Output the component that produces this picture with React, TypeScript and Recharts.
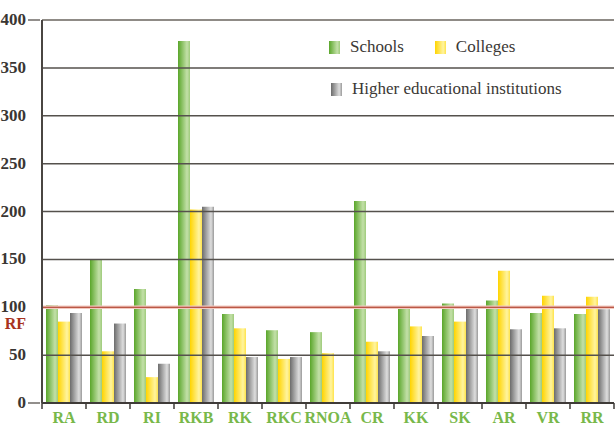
import { Bar, BarChart, ReferenceLine, XAxis, YAxis } from "recharts";

const regions = ["RA", "RD", "RI", "RKB", "RK", "RKC", "RNOA", "CR", "KK", "SK", "AR", "VR", "RR"];
const schools = [102, 150, 119, 378, 93, 76, 74, 211, 100, 104, 107, 94, 93];
const colleges = [85, 54, 27, 202, 78, 46, 52, 64, 80, 85, 138, 112, 111];
const higher = [94, 83, 41, 205, 48, 48, null, 54, 70, 100, 77, 78, 98];
const yTicks = [0, 50, 100, 150, 200, 250, 300, 350, 400];
const rfLevel = 100;

const data = regions.map((r, i) => ({
  region: r,
  schools: schools[i],
  colleges: colleges[i],
  higher: higher[i],
}));

const serif = "Liberation Serif, Times New Roman, serif";

const swatches = [
  { key: "schools", label: "Schools", bg: "linear-gradient(90deg,#5aa62a,#c3e0a8 75%,#9fcb7c)" },
  { key: "colleges", label: "Colleges", bg: "linear-gradient(90deg,#ffd400,#fff4a0 75%,#ffe34a)" },
  { key: "higher", label: "Higher educational institutions", bg: "linear-gradient(90deg,#6c6c6c,#dedede 75%,#9a9a9a)" },
];

function LegendBox() {
  const item = (s: (typeof swatches)[number]) => (
    <div key={s.key} style={{ display: "flex", alignItems: "center" }}>
      <span style={{ width: 11, height: 13, background: s.bg, display: "inline-block", marginRight: 10 }} />
      <span>{s.label}</span>
    </div>
  );
  return (
    <div
      style={{
        position: "absolute",
        left: 329,
        top: 37,
        fontFamily: serif,
        fontSize: 17,
        color: "#3b3835",
        lineHeight: "20px",
      }}
    >
      <div style={{ display: "flex", gap: 31 }}>
        {item(swatches[0])}
        {item(swatches[1])}
      </div>
      <div style={{ marginTop: 22, marginLeft: 2 }}>{item(swatches[2])}</div>
    </div>
  );
}

function XTick(props: any) {
  const { x, y, payload, index } = props;
  const off = payload.offset ?? 22;
  return (
    <g>
      <line x1={x - off} x2={x - off} y1={403} y2={409} stroke="#3f3b38" strokeWidth={1.5} />
      {index === regions.length - 1 && (
        <line x1={x + off} x2={x + off} y1={403} y2={409} stroke="#3f3b38" strokeWidth={1.5} />
      )}
      <text x={x} y={y + 12} textAnchor="middle" fill="#78b84a" fontFamily={serif} fontWeight="bold" fontSize={16}>
        {payload.value}
      </text>
    </g>
  );
}

function YTick(props: any) {
  const { x, y, payload } = props;
  const v = payload.value;
  return (
    <g>
      {(v === 0 || v === 400) && <line x1={x - 6} x2={x + 6} y1={y} y2={y} stroke="#6e6a66" strokeWidth={1.5} />}
      <text x={x - 8} y={y + 5} textAnchor="end" fill="#3a3633" fontFamily={serif} fontWeight="bold" fontSize={17}>
        {v}
      </text>
      {v === rfLevel && (
        <text x={x - 8} y={y + 22} textAnchor="end" fill="#a8321e" fontFamily={serif} fontWeight="bold" fontSize={16}>
          RF
        </text>
      )}
    </g>
  );
}

export default function App() {
  return (
    <div style={{ position: "absolute", left: 0, top: 0, width: 616, height: 427, background: "#fff" }}>
      <BarChart
        width={616}
        height={427}
        data={data}
        margin={{ top: 20, right: 2, bottom: 0, left: 0 }}
        barCategoryGap={4}
        barGap={0}
      >
        <defs>
          <linearGradient id="gGreen" x1="0" x2="1" y1="0" y2="0">
            <stop offset="0%" stopColor="#5aa62a" />
            <stop offset="75%" stopColor="#c3e0a8" />
            <stop offset="100%" stopColor="#9fcb7c" />
          </linearGradient>
          <linearGradient id="gYellow" x1="0" x2="1" y1="0" y2="0">
            <stop offset="0%" stopColor="#ffd400" />
            <stop offset="75%" stopColor="#fff4a0" />
            <stop offset="100%" stopColor="#ffe34a" />
          </linearGradient>
          <linearGradient id="gGray" x1="0" x2="1" y1="0" y2="0">
            <stop offset="0%" stopColor="#6c6c6c" />
            <stop offset="75%" stopColor="#dedede" />
            <stop offset="100%" stopColor="#9a9a9a" />
          </linearGradient>
        </defs>
        {yTicks.filter((t) => t > 0 && t < 400 && t !== rfLevel).map((t) => (
          <ReferenceLine key={t} y={t} stroke="#55514d" strokeWidth={1.5} />
        ))}
        <ReferenceLine y={400} stroke="#8f8b86" strokeWidth={2} />
        <ReferenceLine y={rfLevel} stroke="#f2c9c0" strokeWidth={3.5} />
        <ReferenceLine y={rfLevel} stroke="#a8321e" strokeWidth={1.2} />
        <XAxis
          dataKey="region"
          height={24}
          axisLine={{ stroke: "#3f3b38", strokeWidth: 2 }}
          tickLine={false}
          tick={<XTick />}
          interval={0}
        />
        <YAxis
          width={42}
          domain={[0, 400]}
          ticks={yTicks}
          axisLine={{ stroke: "#4a4642", strokeWidth: 2 }}
          tickLine={false}
          tick={<YTick />}
        />
        <Bar dataKey="schools" fill="url(#gGreen)" isAnimationActive={false} />
        <Bar dataKey="colleges" fill="url(#gYellow)" isAnimationActive={false} />
        <Bar dataKey="higher" fill="url(#gGray)" isAnimationActive={false} />
      </BarChart>
      <LegendBox />
    </div>
  );
}
